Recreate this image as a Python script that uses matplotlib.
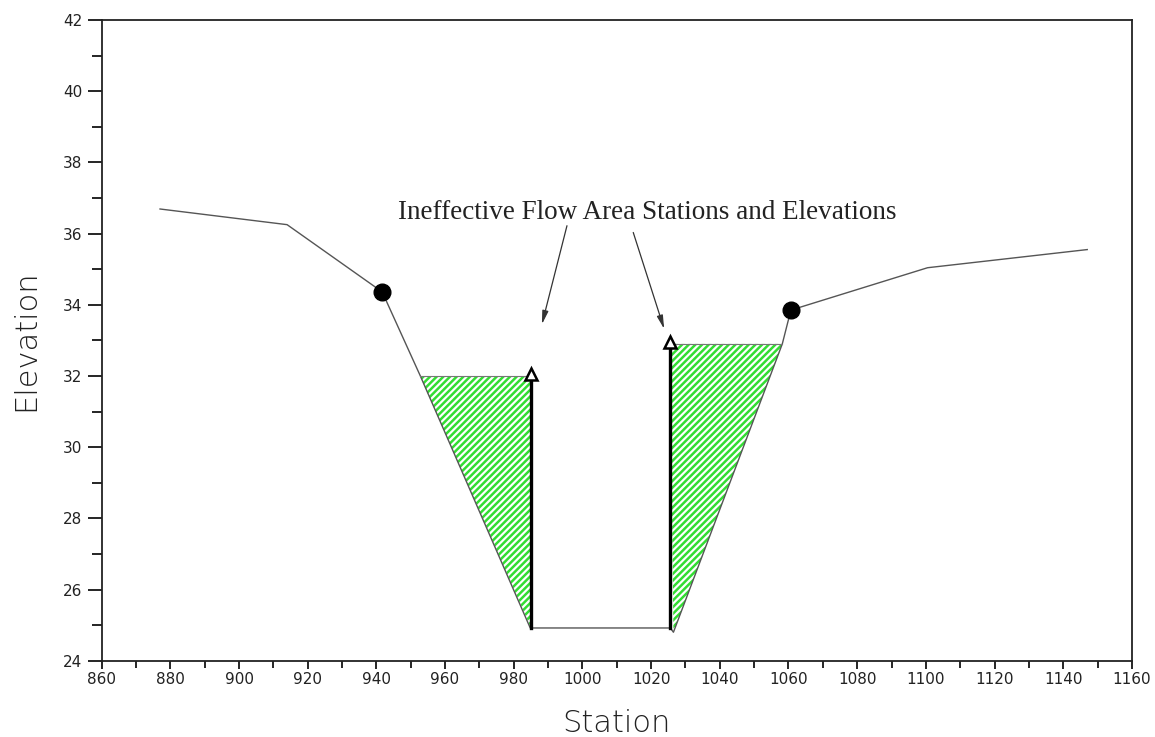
#!/usr/bin/env python3
"""
Cross section with ineffective flow areas
"""

import matplotlib
matplotlib.use('Agg')
import matplotlib.pyplot as plt

# ground profile (station, elevation)
ground_sta = [877, 914, 941.7, 952.8, 984.8, 1025.6, 1026.5, 1058.2, 1060.7, 1100.5, 1147.0]
ground_elev = [36.69, 36.25, 34.36, 32.0, 24.92, 24.92, 24.8, 32.9, 33.85, 35.04, 35.55]

# bank stations (filled circles)
bank_sta = [941.7, 1060.7]
bank_elev = [34.36, 33.85]

# ineffective flow stations / elevations
ineff_sta = [985.0, 1025.5]
ineff_elev = [32.05, 32.95]
ineff_bottom = [24.92, 24.92]

# hatched ineffective areas
left_area_sta = [952.8, 985.0, 985.0]
left_area_elev = [32.0, 32.0, 24.92]
right_area_sta = [1025.5, 1058.2, 1026.5]
right_area_elev = [32.9, 32.9, 24.8]

annot_text = 'Ineffective Flow Area Stations and Elevations'
annot_xy = (1019.0, 36.6)
arrow_tails = [(995.5, 36.22), (1014.8, 36.03)]
arrow_heads = [(988.2, 33.45), (1023.8, 33.32)]


def main():
    fig = plt.figure(figsize=(11.55, 7.37), dpi=100)
    ax = fig.add_axes([0.088, 0.1035, 0.892, 0.8694])
    plt.rcParams['hatch.linewidth'] = 1.8

    # hatched areas
    for xs, ys in [(left_area_sta, left_area_elev), (right_area_sta, right_area_elev)]:
        ax.fill(xs, ys, facecolor='white', edgecolor='#33dd33', hatch='/////',
                linewidth=0, zorder=1)

    # ground line
    ax.plot(ground_sta, ground_elev, color='#555555', linewidth=1.0, zorder=2)
    ax.plot([left_area_sta[0], left_area_sta[1]], [left_area_elev[0], left_area_elev[1]],
            color='#777777', linewidth=0.8, zorder=2)
    ax.plot([right_area_sta[0], right_area_sta[1]], [right_area_elev[0], right_area_elev[1]],
            color='#777777', linewidth=0.8, zorder=2)

    # bank stations
    ax.plot(bank_sta, bank_elev, 'o', color='black', markersize=12, zorder=4)

    # ineffective flow markers
    for s, top, bot in zip(ineff_sta, ineff_elev, ineff_bottom):
        ax.plot([s, s], [bot, top - 0.1], color='black', linewidth=2.4, zorder=3)
    ax.plot(ineff_sta, ineff_elev, '^', markerfacecolor='white', markeredgecolor='black',
            markeredgewidth=1.8, markersize=9, zorder=5)

    # annotation
    ax.text(annot_xy[0], annot_xy[1], annot_text, ha='center', va='center',
            fontsize=19.5, family='Liberation Serif', color='#222222')
    for tail, head in zip(arrow_tails, arrow_heads):
        ax.annotate('', xy=head, xytext=tail,
                    arrowprops=dict(arrowstyle='-|>,head_width=0.18,head_length=0.8',
                                    color='#333333', lw=0.9, shrinkA=0, shrinkB=0))

    ax.set_xlim(860, 1160)
    ax.set_ylim(24, 42)
    ax.set_xticks(range(860, 1161, 20))
    ax.set_xticks(range(870, 1160, 20), minor=True)
    ax.set_yticks(range(24, 43, 2))
    ax.set_yticks(range(25, 42, 2), minor=True)

    ax.tick_params(axis='x', which='major', length=6, width=1.2, labelsize=11, pad=2)
    ax.tick_params(axis='x', which='minor', length=5, width=1.2)
    ax.tick_params(axis='y', which='major', length=10, width=1.2, labelsize=11, pad=4)
    ax.tick_params(axis='y', which='minor', length=7, width=1.2)
    for lab in ax.get_xticklabels() + ax.get_yticklabels():
        lab.set_family('DejaVu Sans')
        lab.set_color('#222222')

    for sp in ax.spines.values():
        sp.set_linewidth(1.3)
        sp.set_color('#222222')

    ax.set_xlabel('Station', fontsize=22, family='DejaVu Sans', fontweight='light',
                  color='#222222', labelpad=16)
    ax.set_ylabel('Elevation', fontsize=22, family='DejaVu Sans', fontweight='light',
                  color='#222222', labelpad=16)

    plt.savefig('out.png', dpi=100)


if __name__ == "__main__":
    main()
